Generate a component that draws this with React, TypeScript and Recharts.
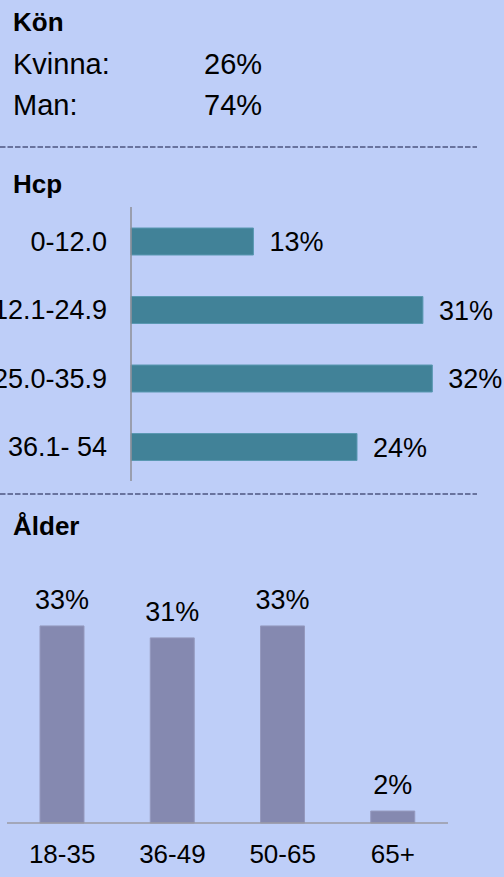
import React from 'react';
import { BarChart, Bar, XAxis, YAxis, LabelList } from 'recharts';

// Kön
const genderLabels = ['Kvinna:', 'Man:'];
const genderValues = [26, 74];

// Hcp
const hcpCategories = ['0-12.0', '12.1-24.9', '25.0-35.9', '36.1- 54'];
const hcpValues = [13, 31, 32, 24];

// Ålder
const ageCategories = ['18-35', '36-49', '50-65', '65+'];
const ageValues = [33, 31, 33, 2];

const FONT = '"Liberation Sans", Arial, Helvetica, sans-serif';
const BG = '#BECEF8';

const hcpData = hcpCategories.map((name, i) => ({ name, value: hcpValues[i] }));
const ageData = ageCategories.map((name, i) => ({ name, value: ageValues[i] }));

const pct = (v: any) => `${v}%`;

export default function App() {
  return (
    <div
      style={{
        position: 'fixed',
        left: 0,
        top: 0,
        width: 504,
        height: 877,
        background: BG,
        fontFamily: FONT,
        overflow: 'hidden',
      }}
    >
      {/* static texts + separators */}
      <svg width={504} height={877} style={{ position: 'absolute', left: 0, top: 0 }}>
        <text x={13} y={31} fontSize={26} fontWeight="bold" fill="#000" fontFamily={FONT}>
          Kön
        </text>
        {genderLabels.map((lbl, i) => (
          <g key={lbl}>
            <text x={13} y={74 + i * 41} fontSize={29} fill="#000" fontFamily={FONT}>
              {lbl}
            </text>
            <text x={204} y={74 + i * 41} fontSize={29} fill="#000" fontFamily={FONT}>
              {pct(genderValues[i])}
            </text>
          </g>
        ))}
        <line x1={0} y1={147} x2={477} y2={147} stroke="#4E5680" strokeWidth={1.6} strokeDasharray="5.5 2" />
        <text x={13} y={193} fontSize={26} fontWeight="bold" fill="#000" fontFamily={FONT}>
          Hcp
        </text>
        <line x1={0} y1={494} x2={477} y2={494} stroke="#4E5680" strokeWidth={1.6} strokeDasharray="5.5 2" />
        <text x={13} y={535} fontSize={26} fontWeight="bold" fill="#000" fontFamily={FONT}>
          Ålder
        </text>
      </svg>

      {/* Hcp horizontal bars */}
      <div style={{ position: 'absolute', left: 0, top: 200 }}>
        <BarChart
          width={504}
          height={290}
          data={hcpData}
          layout="vertical"
          margin={{ top: 7, right: 34, bottom: 9, left: 0 }}
          barSize={27}
        >
          <XAxis type="number" domain={[0, 36]} hide />
          <YAxis
            type="category"
            dataKey="name"
            width={131}
            tickSize={0}
            tickMargin={24}
            tickLine={false}
            axisLine={{ stroke: '#8E8E96', strokeWidth: 1.5 }}
            tick={{ fill: '#000', fontSize: 27, fontFamily: FONT }}
          />
          <Bar dataKey="value" fill="#418298" stroke="#5A98B2" strokeWidth={1} isAnimationActive={false}>
            <LabelList
              dataKey="value"
              position="right"
              offset={16}
              formatter={pct}
              style={{ fill: '#000', fontSize: 27, fontFamily: FONT }}
            />
          </Bar>
        </BarChart>
      </div>

      {/* Ålder vertical bars */}
      <div style={{ position: 'absolute', left: 0, top: 560 }}>
        <BarChart
          width={504}
          height={317}
          data={ageData}
          margin={{ top: 54, right: 56, bottom: 14, left: 7 }}
          barSize={44}
        >
          <XAxis
            dataKey="name"
            height={40}
            tickSize={0}
            tickMargin={22}
            tickLine={false}
            axisLine={{ stroke: '#9A9AA4', strokeWidth: 1.5 }}
            tick={{ fill: '#000', fontSize: 26, fontFamily: FONT }}
          />
          <YAxis type="number" domain={[0, 35]} hide />
          <Bar dataKey="value" fill="#8589B0" stroke="#9599BE" strokeWidth={1} isAnimationActive={false}>
            <LabelList
              dataKey="value"
              position="top"
              offset={17}
              formatter={pct}
              style={{ fill: '#000', fontSize: 27, fontFamily: FONT }}
            />
          </Bar>
        </BarChart>
      </div>
    </div>
  );
}
